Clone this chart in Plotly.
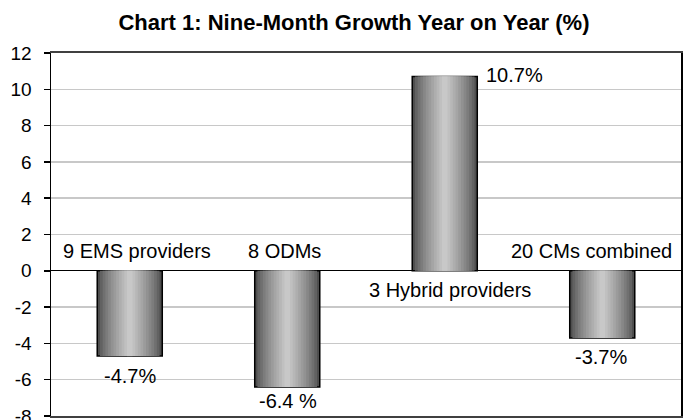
import plotly.graph_objects as go

categories = ["9 EMS providers", "8 ODMs", "3 Hybrid providers", "20 CMs combined"]
values = [-4.7, -6.4, 10.7, -3.7]
value_labels = ["-4.7%", "-6.4 %", "10.7%", "-3.7%"]
tick_vals = [-8, -6, -4, -2, 0, 2, 4, 6, 8, 10, 12]
tick_text = ["-8", "-6", "-4", "-2", "0", "2", "4", "6", "8", "10", "12"]
title_text = "Chart 1: Nine-Month Growth Year on Year (%)"

FONT = "Liberation Sans, Arial, sans-serif"
BAR_W = 0.413
N_LAYERS = 12

fig = go.Figure()

# simulated cylinder gradient: nested overlaid bars, dark edges -> light centre
for k in range(N_LAYERS):
    t = k / (N_LAYERS - 1)
    g = int(round(78 + (200 - 78) * (t ** 0.75)))
    color = f"rgb({g},{g},{g})"
    w = BAR_W * (1 - k / N_LAYERS)
    fig.add_trace(go.Bar(
        x=categories, y=values, width=w,
        marker=dict(color=color,
                    line=dict(color="black", width=1.5 if k == 0 else 0)),
        hoverinfo="skip", showlegend=False,
    ))

# category name labels (positions relative to zero line)
cat_shift = [(7, 20), (-3, 20), (5, -19), (-11, 20)]
for c, (dx, dy) in zip(categories, cat_shift):
    fig.add_annotation(x=c, y=0, text=c, showarrow=False, xanchor="center",
                       yanchor="middle", xshift=dx, yshift=dy,
                       font=dict(family=FONT, size=20, color="black"))

# value labels
val_shift = [(0, -20), (1, -14), (70, 2), (-1, -19)]
for c, v, lab, (dx, dy) in zip(categories, values, value_labels, val_shift):
    fig.add_annotation(x=c, y=v, text=lab, showarrow=False, xanchor="center",
                       yanchor="middle", xshift=dx, yshift=dy,
                       font=dict(family=FONT, size=20, color="black"))

H = 440  # taller than the 420 window so the bottom is cropped like the reference
fig.update_layout(
    barmode="overlay",
    width=683, height=H,
    margin=dict(l=51, r=2, t=53, b=H - 416, autoexpand=False),
    paper_bgcolor="white", plot_bgcolor="white",
    title=dict(text=f"<b>{title_text}</b>", x=354 / 683, xref="container",
               xanchor="center", y=1 - 22.5 / H, yref="container",
               yanchor="middle",
               font=dict(family=FONT, size=22, color="black")),
    font=dict(family=FONT, color="black"),
    xaxis=dict(showticklabels=False, ticks="", showgrid=False,
               showline=True, linecolor="#404040", linewidth=2, mirror=True,
               range=[-0.5, 3.5], zeroline=False),
    yaxis=dict(range=[-8, 12], tickvals=tick_vals, ticktext=tick_text,
               ticks="outside",
               ticklen=6, tickwidth=1.5, tickcolor="black",
               showline=True, linecolor="black", linewidth=1.5, mirror=True,
               showgrid=True, gridcolor="#c8c8c8", gridwidth=1.5,
               zeroline=True, zerolinecolor="black", zerolinewidth=1,
               tickfont=dict(family=FONT, size=19, color="black"),
               ticklabelstandoff=8),
)

fig.write_html("out.html",
               config={"displayModeBar": False, "staticPlot": True},
               post_script="document.body.style.margin='0';"
                           "document.body.style.padding='0';"
                           "document.body.style.overflow='hidden';"
                           "document.documentElement.style.overflow='hidden';")
